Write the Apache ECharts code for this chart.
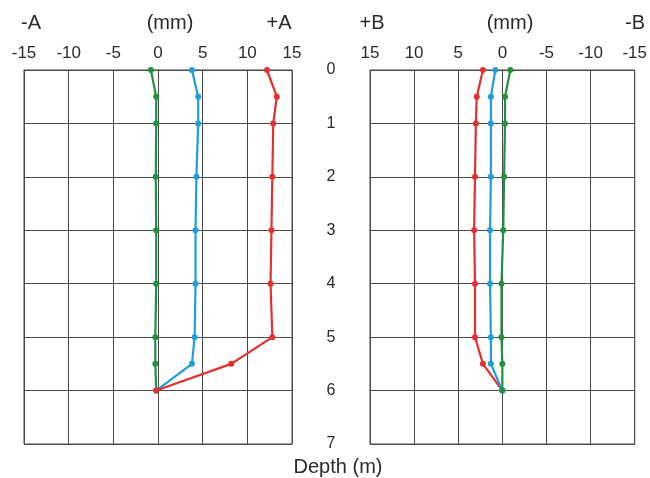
<!DOCTYPE html>
<html>
<head>
<meta charset="utf-8">
<script src="https://cdn.jsdelivr.net/npm/echarts@6/dist/echarts.min.js"></script>
<style>
  html, body { margin: 0; padding: 0; background: #fff; }
  #chart { width: 650px; height: 478px; }
</style>
</head>
<body>
<div id="chart"></div>
<script>
  // depth of each reading (m)
  const depth = [0, 0.5, 1, 2, 3, 4, 5, 5.5, 6]
  // A direction displacement (mm)
  const aGreen = [-0.8, -0.2, -0.2, -0.25, -0.2, -0.2, -0.3, -0.3, -0.2]
  const aBlue = [3.8, 4.5, 4.5, 4.3, 4.2, 4.2, 4.1, 3.8, -0.2]
  const aRed = [12.2, 13.3, 12.9, 12.8, 12.7, 12.6, 12.8, 8.2, -0.2]
  // B direction displacement (mm)
  const bRed = [2.2, 2.9, 3.0, 3.1, 3.2, 3.1, 3.1, 2.2, 0]
  const bBlue = [0.8, 1.3, 1.3, 1.3, 1.4, 1.4, 1.3, 1.3, 0]
  const bGreen = [-0.9, -0.3, -0.3, -0.2, -0.1, 0.1, 0.1, 0, 0]

  const font = 'Liberation Sans, Arial, sans-serif'
  const gridColor = '#4a4a4a'
  const textColor = '#2a2a2a'
  const colors = { green: '#23903f', blue: '#1f9fd9', red: '#e3302f' }

  const pairs = (vals) => vals.map((v, i) => [v, depth[i]])

  const chart = echarts.init(document.getElementById('chart'), null, { renderer: 'canvas' })

  const xAxisBase = (gridIndex, inverse) => ({
    type: 'value',
    gridIndex: gridIndex,
    position: 'top',
    min: -15,
    max: 15,
    interval: 5,
    inverse: inverse,
    axisLine: { show: true, lineStyle: { color: gridColor, width: 1 } },
    axisTick: { show: false },
    axisLabel: { color: textColor, fontSize: 17, fontFamily: font, margin: 8 },
    splitLine: { show: true, lineStyle: { color: gridColor, width: 1 } }
  })

  const yAxisBase = (gridIndex, showLabel) => ({
    type: 'value',
    gridIndex: gridIndex,
    min: 0,
    max: 7,
    interval: 1,
    inverse: true,
    axisLine: { show: true, lineStyle: { color: gridColor, width: 1 } },
    axisTick: { show: false },
    axisLabel: { show: showLabel, color: textColor, fontSize: 16, fontFamily: font, margin: 39, align: 'center' },
    splitLine: { show: true, lineStyle: { color: gridColor, width: 1 } }
  })

  const lineSeries = (xi, data, color) => ({
    type: 'line',
    xAxisIndex: xi,
    yAxisIndex: xi,
    data: data,
    symbol: 'circle',
    symbolSize: 6,
    lineStyle: { color: color, width: 2.2 },
    itemStyle: { color: color },
    animation: false,
    z: 3
  })

  const textStyle = { fontSize: 20, fontFamily: font, fill: textColor }
  const label = (x, y, text) => ({
    type: 'text', x: x, y: y,
    style: Object.assign({ text: text, align: 'center', verticalAlign: 'middle' }, textStyle)
  })

  const option = {
    backgroundColor: '#fff',
    animation: false,
    grid: [
      { left: 24, top: 70, width: 268, height: 374, show: true, borderColor: gridColor, borderWidth: 1 },
      { left: 370, top: 70, width: 267, height: 374, show: true, borderColor: gridColor, borderWidth: 1 }
    ],
    xAxis: [xAxisBase(0, false), xAxisBase(1, true)],
    yAxis: [yAxisBase(0, false), yAxisBase(1, true)],
    graphic: [
      label(31, 23, '-A'),
      label(170, 23, '(mm)'),
      label(279, 23, '+A'),
      label(372, 23, '+B'),
      label(510, 23, '(mm)'),
      label(635, 23, '-B'),
      label(338, 467, 'Depth (m)')
    ],
    series: [
      lineSeries(0, pairs(aGreen), colors.green),
      lineSeries(0, pairs(aBlue), colors.blue),
      lineSeries(0, pairs(aRed), colors.red),
      lineSeries(1, pairs(bRed), colors.red),
      lineSeries(1, pairs(bBlue), colors.blue),
      lineSeries(1, pairs(bGreen), colors.green)
    ]
  }

  chart.setOption(option)
</script>
</body>
</html>
